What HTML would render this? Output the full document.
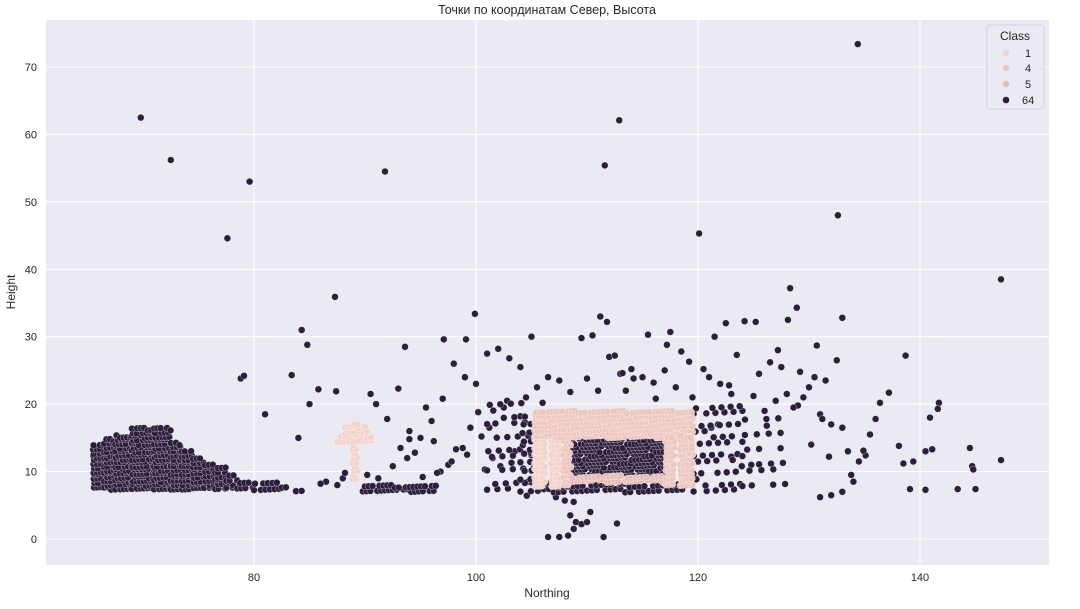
<!DOCTYPE html>
<html><head><meta charset="utf-8">
<style>
body{margin:0;background:#fff;font-family:"Liberation Sans",sans-serif;}
svg text{font-family:"Liberation Sans","DejaVu Sans",sans-serif;}
</style></head>
<body>
<svg id="chart" width="1080" height="604" viewBox="0 0 1080 604">
<rect x="46" y="20" width="1003" height="545" fill="#eaeaf2"/>
<g id="grid"></g>
<g id="marks"></g>
<g id="axes"></g>
<text x="547" y="14" text-anchor="middle" font-size="12.5" fill="#262626">Точки по координатам Север, Высота</text>
<text x="547" y="597" text-anchor="middle" font-size="12" fill="#262626">Northing</text>
<text x="15" y="292" text-anchor="middle" font-size="12" fill="#262626" transform="rotate(-90 15 292)">Height</text>
<g>
<rect x="987" y="25" width="57" height="84" rx="3" fill="#eaeaf2" stroke="#cccccc" stroke-width="0.8"/>
<text x="1015" y="40" text-anchor="middle" font-size="12" fill="#262626">Class</text>
<g><circle cx="1006" cy="53" r="3.3" fill="#f2d3cb"/><text x="1025" y="57" font-size="11" fill="#262626">1</text></g>
<g><circle cx="1006" cy="68" r="3.3" fill="#ecc6bf"/><text x="1025" y="72" font-size="11" fill="#262626">4</text></g>
<g><circle cx="1006" cy="84" r="3.3" fill="#e8bfb8"/><text x="1025" y="88" font-size="11" fill="#262626">5</text></g>
<g><circle cx="1006" cy="100" r="3.3" fill="#2d1e3e"/><text x="1022" y="104" font-size="11" fill="#262626">64</text></g>
</g>
</svg>
<script>
const xTicks=[80,100,120,140];
const yTicks=[0,10,20,30,40,50,60,70];
const classes=[1,4,5,64];
const classColors=["#f2d3cb","#ecc6bf","#e8bfb8","#2d1e3e"];
// dense regions: [xStart,xEnd,yStart,yEnd,class,spacing]
const denseRegions=[
[65.5,66.5,7.8,14.3,64,1],[66.5,67.5,7.5,14.8,64,1],[67.5,69,7.5,15.5,64,1],[69,71,7.5,16.3,64,1],
[71,72.5,7.5,16.8,64,1],[72.5,73.5,7.5,14.2,64,1],[73.5,74.5,7.5,13.5,64,1],[74.5,75.5,7.5,12.3,64,1],
[75.5,76.5,7.5,11.5,64,1.1],[76.5,77.5,7.5,10.6,64,1.1],[77.5,78.5,7.5,9.6,64,1.2],[78.5,80,7.5,8.8,64,1.2],
[80,82.5,7.5,8.5,64,1.3],[82.5,84.5,7.4,8.2,64,1.6],[89.8,96.5,7.2,8.3,64,1.1],
[101,105,7,21,64,3],[104,106,7,17,64,2],[106,119,7.2,8.3,64,1.4],[108.6,117.2,9.6,15,64,1.05],
[119.6,124,7,21,64,2.6],[124,128,8,19,64,3.4],
[105.3,106.2,8,15,1,1],[106.8,107.6,8,15,1,1],[107.9,108.6,8,15,4,1],[105.3,119.5,15.2,19,4,0.95],
[108.6,117.1,8.6,9.3,5,1.1],[117.1,117.9,8,15.2,4,1],[118.4,119.5,8,15.2,4,1],
[87.5,90.8,14.5,15.5,1,1.1],[88.2,90.2,15.5,16.6,1,1],[88.8,89.6,16.6,17.3,1,1],[88.9,89.4,9,14.5,1,1]
];
const scatterX=[69.8,72.5,77.6,79.6,78.8,79.1,81,83.4,84,84.3,84.8,85,85.8,87.3,87.4,91.8,93.6,97.1,99.1,99.9,111.6,112.9,120.1,134.4,132.6,147.3,147.3,128.3,128.9,133,130.7,128.1,138.7,137.2,136.4,141.7,140.9,141.6,144.5,144.7,144.8,145,143.4,140.5,139.1,139.4,138.1,138.5,140.5,141.1,135.1,134.9,133.5,134,133,132,131,
106.5,107.5,108.3,108.8,109,109.5,110,111.5,112.7,108,108.8,107.2,108.5,110.3,
87.5,88,88.2,86.5,86,90.5,91,92,93,94,95,96,97,98,99,100,101,102,103,104,105,
93.2,94.5,95.5,96.2,97.5,98.2,99.5,100.5,101.5,102.5,103.5,104.5,105.5,106.5,107.5,108.5,110,111,112,113,114,115,116,117,118,119.5,121,122,123,124,125,126,127,128,129,130,131,132,133,
92.5,94,96.8,98.8,100.2,101.2,102.8,104,106,109.5,111.2,112.5,113.5,115.5,117.5,120.5,121.5,122.5,123.5,125.5,126.5,127.5,129.5,130.5,131.5,132.5,
90.2,95.2,97.8,100.8,103.2,105.2,110.5,114.2,116.2,118.5,121.2,124.2,126.2,128.6,130.2,131.8,134.5,135.5,136,
91.2,93.8,96.5,99.2,102.2,104.8,111.8,113.2,117.2,119.2,122.8,125.2,127.2,129.2,131.2,133.8,121.8,123,124.8];
const scatterY=[62.5,56.2,44.6,53,23.8,24.2,18.5,24.3,15,31,28.8,20,22.2,35.9,21.9,54.5,28.5,29.6,29.6,33.4,55.4,62.1,45.3,73.4,48,38.5,11.7,37.2,34.3,32.8,28.7,32.5,27.2,21.7,20.2,20.2,18,19.3,13.5,10.8,10.3,7.4,7.4,7.3,7.4,11.5,13.8,11.2,13,13.3,12.4,13.1,13,8.5,7,6.5,6.2,
0.3,0.3,0.5,1.5,2.5,2.2,2.5,0.3,2.3,5.7,5.5,6.2,3.5,4,
8,9,9.8,8.5,8.2,21.5,20,17.8,22.3,16,15,17.5,20.8,26,24,23,27.5,28.2,26.8,25.5,30,
13.5,12.8,19.5,14.5,11,13.3,16.5,15.2,12,19.5,13,21,22.5,24,23.5,21.8,23.8,22,27,24.5,25.2,24,23.2,25,22.5,21,24,23,21.5,19,21.2,19,20.5,21.5,19.8,22.5,18.5,17,16.5,
10.8,14.8,10,13.5,18.8,16.5,20.5,18.2,20.2,29.8,33,27.2,22,30.3,30.7,25.2,30,32,27.3,24.5,26.2,25.5,21,24,23.5,26.5,
9.5,9.2,11.5,10.3,11.3,10.5,30.2,23.8,20.8,27.8,16.5,32.3,16.8,19.5,14,12.2,11.5,15.5,17.8,
9,12,9.8,12.5,10.8,15.8,32.2,24.6,28.8,26.3,22.8,32.2,28,24.8,17.8,9.5,17,12.2,11];
const X0=46,X1=1049,Y0=20,Y1=565;
function xs(v){return 254+(v-80)*11.1;}
function ys(v){return 539-v*6.743;}
const NS="http://www.w3.org/2000/svg";
const grid=document.getElementById('grid'),axes=document.getElementById('axes'),marks=document.getElementById('marks');
xTicks.forEach(t=>{
 const l=document.createElementNS(NS,'line');
 l.setAttribute('x1',xs(t));l.setAttribute('x2',xs(t));l.setAttribute('y1',Y0);l.setAttribute('y2',Y1);
 l.setAttribute('stroke','#fff');l.setAttribute('stroke-width','1.1');
 
 
 grid.appendChild(l);
 const tx=document.createElementNS(NS,'text');
 tx.setAttribute('x',xs(t));tx.setAttribute('y',581);tx.setAttribute('text-anchor','middle');
 tx.setAttribute('font-size','11');tx.setAttribute('fill','#262626');tx.textContent=t;
 
 
 axes.appendChild(tx);
});
yTicks.forEach(t=>{
 const l=document.createElementNS(NS,'line');
 l.setAttribute('x1',X0);l.setAttribute('x2',X1);l.setAttribute('y1',ys(t));l.setAttribute('y2',ys(t));
 l.setAttribute('stroke','#fff');l.setAttribute('stroke-width','1.1');
 
 
 grid.appendChild(l);
 const tx=document.createElementNS(NS,'text');
 tx.setAttribute('x',37);tx.setAttribute('y',ys(t)+4);tx.setAttribute('text-anchor','end');
 tx.setAttribute('font-size','11');tx.setAttribute('fill','#262626');tx.textContent=t;
 
 
 axes.appendChild(tx);
});
function dot(x,y,cls){
 const c=document.createElementNS(NS,'circle');
 c.setAttribute('cx',xs(x).toFixed(1));c.setAttribute('cy',ys(y).toFixed(1));c.setAttribute('r','3.4');
 c.setAttribute('fill',classColors[classes.indexOf(cls)]);
 c.setAttribute('stroke','#ffffff');c.setAttribute('stroke-width','0.5');c.setAttribute('stroke-opacity','0.6');
 
 
 marks.appendChild(c);
}
for(let i=0;i<scatterX.length;i++) dot(scatterX[i],scatterY[i],64);
let k=0;
denseRegions.forEach(r=>{
 const dx=0.36*r[5],dy=0.55*r[5];
 let row=0;
 for(let y=r[2];y<=r[3]+1e-6;y+=dy,row++){
  const off=(row%2)*dx/2;
  for(let x=r[0]+off;x<=r[1]+1e-6;x+=dx){
   k++;
   const jx=(((k*7919)%17)/17-0.5)*dx*0.7;
   const jy=(((k*104729)%13)/13-0.5)*dy*0.7;
   dot(Math.min(r[1],Math.max(r[0],x+jx)),y+jy,r[4]);
  }
 }
});
</script>
</body></html>
